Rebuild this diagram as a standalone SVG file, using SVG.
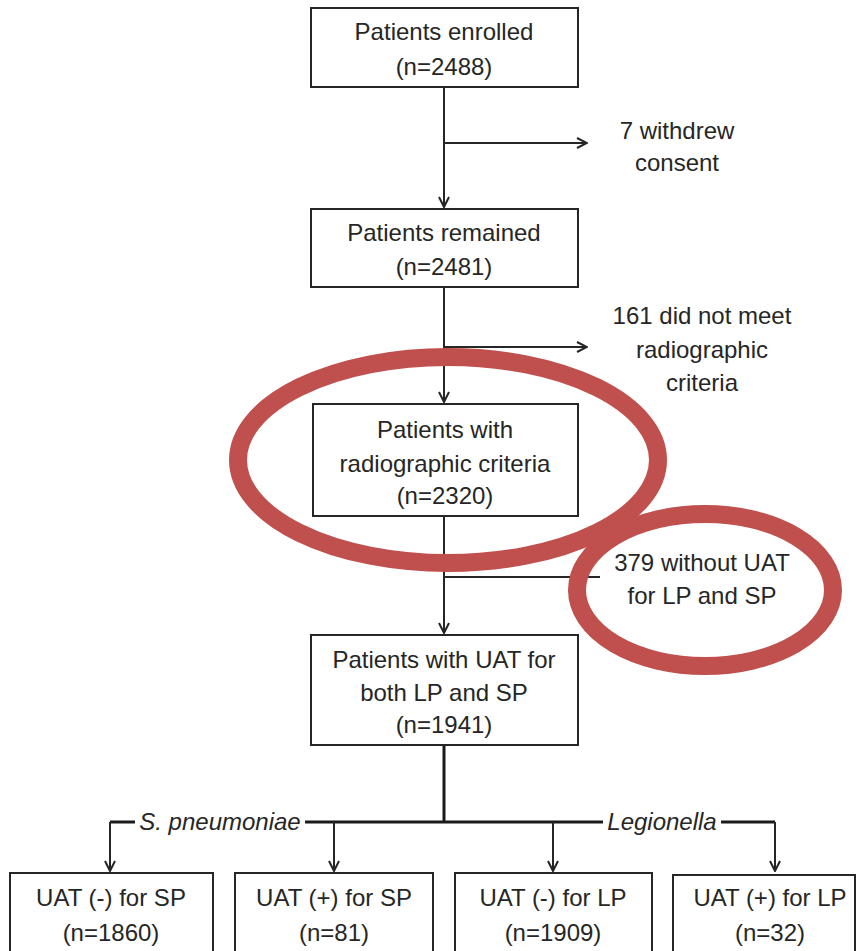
<svg xmlns="http://www.w3.org/2000/svg" width="859" height="951" viewBox="0 0 859 951">
<defs>
<marker id="ah" viewBox="0 0 12 12" refX="11" refY="6" markerWidth="12" markerHeight="12" markerUnits="userSpaceOnUse" orient="auto">
<path d="M1,1 L11,6 L1,11" fill="none" stroke="#262626" stroke-width="2"/>
</marker>
<style>
.box{fill:#fff;stroke:#262626;stroke-width:2}
.t{font-family:"Liberation Sans",Arial,sans-serif;font-size:24px;fill:#262626;text-anchor:middle}
.i{font-style:italic}
.ln{fill:none;stroke:#262626;stroke-width:2}
.thk{fill:none;stroke:#1a1a1a;stroke-width:3}
.red{fill:none;stroke:#c0504d;stroke-width:18}
</style>
</defs>
<rect width="859" height="951" fill="#fff"/>
<g id="connectors">
<path class="ln" d="M444,87 V207" marker-end="url(#ah)"/>
<path class="ln" d="M444,143 H587" marker-end="url(#ah)"/>
<path class="ln" d="M444,287 V402" marker-end="url(#ah)"/>
<path class="ln" d="M444,347 H587" marker-end="url(#ah)"/>
<path class="ln" d="M444,516 V633" marker-end="url(#ah)"/>
<path class="ln" d="M444,577 H600"/>
<path class="thk" d="M444,745 V822"/>
<path class="thk" d="M110,822 H135 M305,822 H603 M721,822 H775"/>
<path class="ln" d="M110,822 V871" marker-end="url(#ah)"/>
<path class="ln" d="M334,822 V871" marker-end="url(#ah)"/>
<path class="ln" d="M553,822 V871" marker-end="url(#ah)"/>
<path class="ln" d="M775,822 V871" marker-end="url(#ah)"/>
<text class="t i" x="220" y="830">S. pneumoniae</text>
<text class="t i" x="662" y="830">Legionella</text>
</g>
<g id="n1"><rect class="box" x="311" y="8" width="267" height="79"/><text class="t" x="444" y="40">Patients enrolled</text><text class="t" x="444" y="75">(n=2488)</text></g>
<g id="n1x"><text class="t" x="677" y="139">7 withdrew</text><text class="t" x="677" y="171">consent</text></g>
<g id="n2"><rect class="box" x="311" y="209" width="267" height="78"/><text class="t" x="444" y="241">Patients remained</text><text class="t" x="444" y="275">(n=2481)</text></g>
<g id="n2x"><text class="t" x="702" y="324">161 did not meet</text><text class="t" x="702" y="358">radiographic</text><text class="t" x="702" y="391">criteria</text></g>
<g id="n3"><rect class="box" x="313" y="404" width="265" height="112"/><text class="t" x="445" y="438">Patients with</text><text class="t" x="445" y="472">radiographic criteria</text><text class="t" x="445" y="504">(n=2320)</text></g>
<g id="n3x"><text class="t" x="702" y="571">379 without UAT</text><text class="t" x="702" y="604">for LP and SP</text></g>
<g id="n4"><rect class="box" x="311" y="635" width="267" height="110"/><text class="t" x="444" y="668">Patients with UAT for</text><text class="t" x="444" y="701">both LP and SP</text><text class="t" x="444" y="733">(n=1941)</text></g>
<g id="n5"><rect class="box" x="10" y="873" width="203" height="85"/><text class="t" x="111" y="906">UAT (-) for SP</text><text class="t" x="111" y="941">(n=1860)</text></g>
<g id="n6"><rect class="box" x="235" y="873" width="198" height="85"/><text class="t" x="334" y="906">UAT (+) for SP</text><text class="t" x="334" y="941">(n=81)</text></g>
<g id="n7"><rect class="box" x="455" y="873" width="197" height="85"/><text class="t" x="553" y="906">UAT (-) for LP</text><text class="t" x="553" y="941">(n=1909)</text></g>
<g id="n8"><rect class="box" x="673" y="875" width="182" height="85"/><text class="t" x="770" y="906">UAT (+) for LP</text><text class="t" x="770" y="941">(n=32)</text></g>
<g id="highlights">
<ellipse class="red" cx="448" cy="460" rx="210" ry="103"/>
<ellipse class="red" cx="705" cy="590" rx="128" ry="76"/>
</g>
</svg>
